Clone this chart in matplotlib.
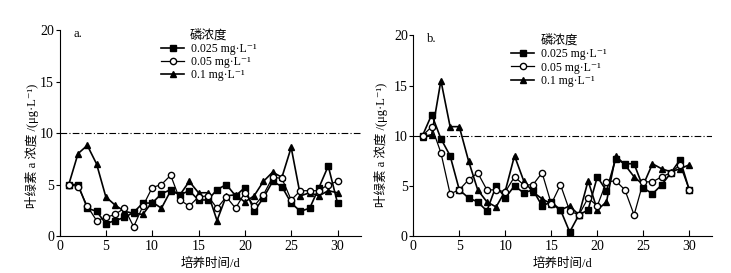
import matplotlib
matplotlib.use("Agg")
from matplotlib import pyplot as plt

plt.rcParams['font.family'] = ['Liberation Serif', 'Noto Sans CJK SC', 'DejaVu Sans']

days = list(range(1, 31))

# a. 叶绿素 a 浓度
a_025 = [5.0, 5.0, 2.7, 2.4, 1.2, 1.5, 1.8, 2.3, 3.2, 3.2, 4.1, 4.5, 4.0, 4.4, 3.5,
         3.5, 4.5, 5.0, 3.9, 4.7, 2.4, 3.7, 5.3, 4.8, 3.2, 2.4, 2.7, 4.7, 6.8, 3.2]
a_05 = [5.0, 4.8, 2.9, 1.5, 1.8, 2.1, 2.7, 0.9, 2.9, 4.7, 5.0, 5.9, 3.5, 2.9, 3.8,
        3.9, 2.7, 3.8, 2.7, 4.2, 2.9, 4.0, 5.7, 5.6, 3.5, 4.4, 4.4, 4.4, 5.0, 5.3]
a_1 = [5.0, 8.0, 8.8, 7.0, 3.8, 3.0, 2.4, 2.2, 2.1, 3.3, 2.7, 4.4, 4.0, 5.3, 4.2,
       4.2, 1.5, 3.9, 4.0, 3.3, 3.9, 5.3, 6.2, 5.7, 8.6, 3.9, 4.2, 3.9, 4.4, 4.2]

# b.
b_025 = [10.0, 12.1, 9.7, 8.0, 4.6, 3.8, 3.4, 2.5, 5.0, 3.8, 5.0, 4.3, 4.6, 3.0, 3.4,
         2.6, 0.4, 2.1, 2.6, 5.9, 4.5, 7.7, 7.2, 7.2, 4.8, 4.2, 5.1, 6.3, 7.6, 4.6]
b_05 = [10.0, 10.9, 8.3, 4.2, 4.6, 5.6, 6.3, 4.6, 4.6, 4.4, 5.9, 5.1, 5.1, 6.3, 3.2,
        5.1, 2.5, 2.1, 3.8, 3.0, 5.4, 5.5, 4.6, 2.1, 5.4, 5.4, 5.9, 6.3, 7.1, 4.6]
b_1 = [9.9, 10.1, 15.5, 10.9, 10.9, 7.5, 4.6, 3.4, 2.9, 4.5, 8.0, 5.5, 4.4, 3.7, 3.2,
       2.6, 3.0, 2.1, 5.5, 2.6, 3.4, 8.0, 7.1, 5.9, 5.1, 7.2, 6.7, 6.4, 6.7, 7.1]

labels = ['0.025 mg·L⁻¹', '0.05 mg·L⁻¹', '0.1 mg·L⁻¹']
ylabel = '叶绿素 a 浓度 /(μg·L⁻¹)'
xlabel = '培养时间/d'

fig = plt.figure(figsize=(7.31, 2.73), dpi=100)
ax1 = fig.add_axes([0.0814, 0.1355, 0.412, 0.7545])
ax2 = fig.add_axes([0.5654, 0.1355, 0.409, 0.735])

panels = [(ax1, 'a.', a_025, a_05, a_1, (-0.068, 0.437), 0.496),
          (ax2, 'b.', b_025, b_05, b_1, (-0.085, 0.455), 0.487)]

for ax, tag, s1, s2, s3, ylc, lx in panels:
    ax.axhline(10, color='black', lw=0.8, ls=(0, (6, 2, 1, 2)))
    ax.plot(days, s1, 'k-', marker='s', ms=4.3, lw=1.2, mfc='black', label=labels[0], zorder=3)
    ax.plot(days, s2, 'k-', marker='o', ms=4.5, lw=0.9, mfc='white', label=labels[1], zorder=4)
    ax.plot(days, s3, 'k-', marker='^', ms=5, lw=1.2, mfc='black', label=labels[2], zorder=3)
    ax.set_xlim(0, 32.5)
    ax.set_ylim(0, 20)
    ax.set_xticks([0, 5, 10, 15, 20, 25, 30])
    ax.set_yticks([0, 5, 10, 15, 20])
    ax.spines['top'].set_visible(False)
    ax.spines['right'].set_visible(False)
    ax.tick_params(axis='x', direction='in', length=4, labelsize=10, pad=3)
    ax.tick_params(axis='y', direction='out', length=3, labelsize=10, pad=1)
    ax.set_ylabel(ylabel, fontsize=9)
    ax.yaxis.set_label_coords(*ylc)
    ax.set_xlabel(xlabel, fontsize=9, labelpad=3)
    ax.text(1.5, 19.3, tag, fontsize=9)
    leg = ax.legend(loc='upper center', bbox_to_anchor=(lx, 1.04), frameon=False,
                    title='磷浓度', fontsize=8.5, title_fontsize=9,
                    handlelength=1.9, handletextpad=0.6, labelspacing=0.12,
                    borderpad=0.1)

fig.savefig('out.png', dpi=100)
